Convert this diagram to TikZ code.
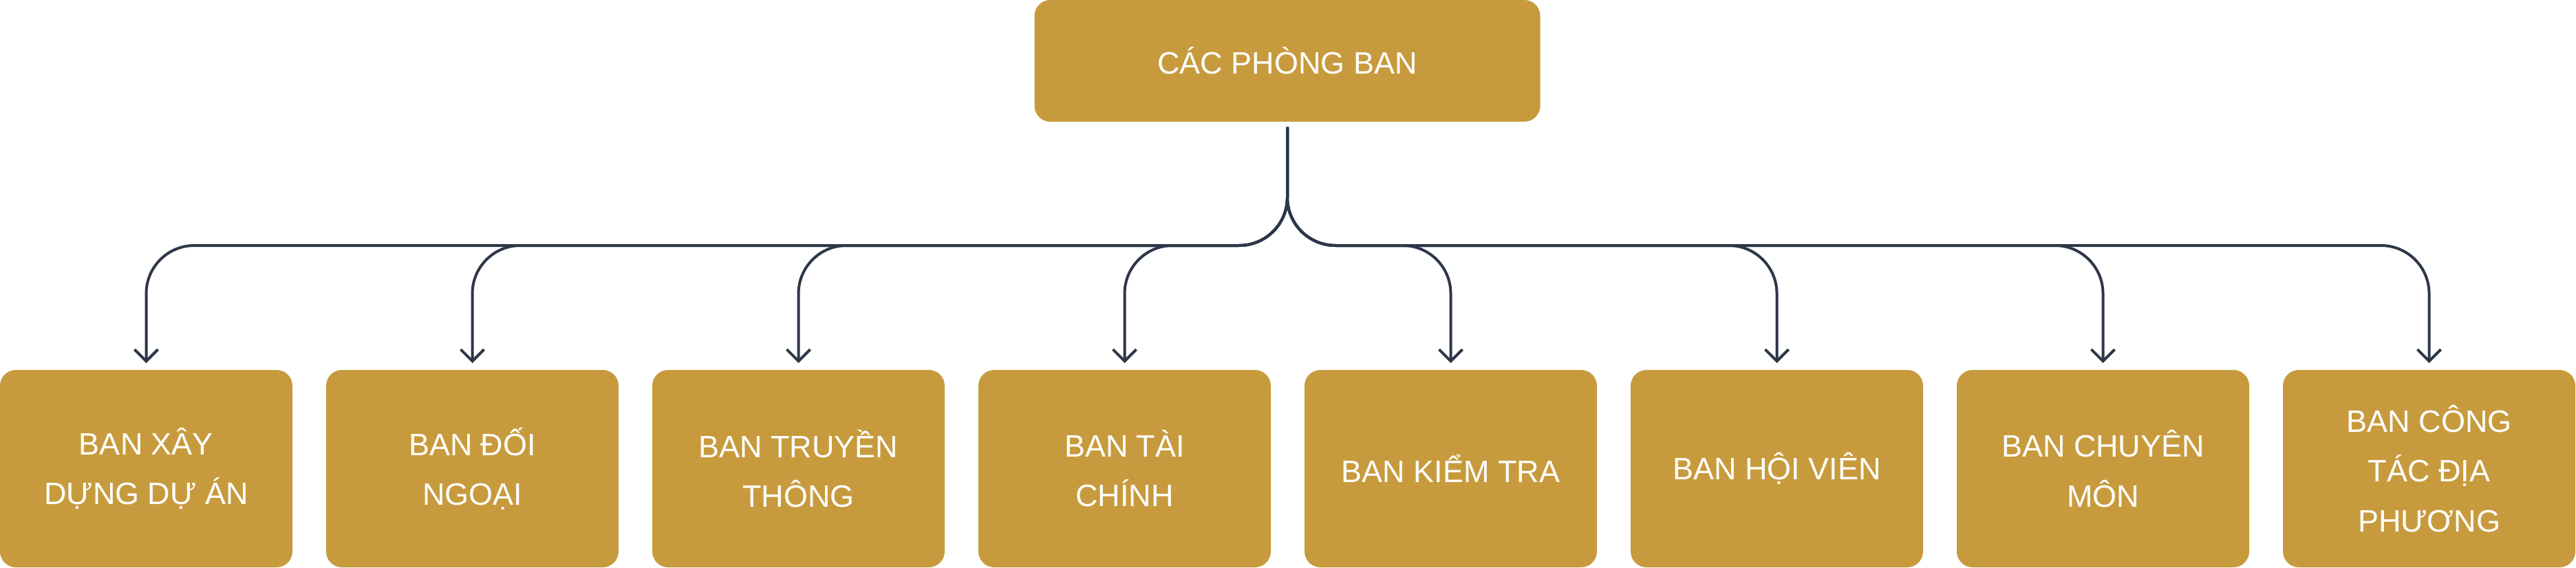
\documentclass[tikz,border=0pt]{standalone}
\usepackage{fontspec}
\setmainfont{Liberation Sans}
\usetikzlibrary{arrows.meta, positioning}
\definecolor{gold}{HTML}{C79B3D}
\definecolor{navy}{HTML}{2D3748}

\begin{document}
\begin{tikzpicture}
	\tikzset {box/.style={rectangle, rounded corners=0.23cm, fill=gold, text=white, inner sep=0pt, outer sep=0pt, align=center, font=\fontsize{12.8}{20.6}\selectfont},
		ban/.style={box, minimum width=4.25cm, minimum height=2.87cm},
		link/.style={navy, line width=0.04cm, rounded corners=0.7cm, -{Straight Barb[length=0.17cm, width=0.34cm]}},
		node distance=0.49cm }
	\useasboundingbox (0,0) rectangle (37.44,8.25);

	\node[box, minimum width=7.35cm, minimum height=1.77cm] (root) at (18.71,7.365) {CÁC PHÒNG BAN};

	\node[ban] (b1) at (2.125,1.435) {BAN XÂY\\DỰNG DỰ ÁN};
	\node[ban, right=of b1] (b2) {BAN ĐỐI\\NGOẠI};
	\node[ban, right=of b2] (b3) {BAN TRUYỀN\\THÔNG};
	\node[ban, right=of b3] (b4) {BAN TÀI\\CHÍNH};
	\node[ban, right=of b4] (b5) {BAN KIỂM TRA};
	\node[ban, right=of b5] (b6) {BAN HỘI VIÊN};
	\node[ban, right=of b6] (b7) {BAN CHUYÊN\\MÔN};
	\node[ban, right=of b7] (b8) {BAN CÔNG\\TÁC ĐỊA\\PHƯƠNG};

	\draw[link] ([yshift=-0.08cm]root.south) |- ([yshift=1.81cm]b1.north) -- ([yshift=0.1cm]b1.north);
	\draw[link] ([yshift=-0.08cm]root.south) |- ([yshift=1.81cm]b2.north) -- ([yshift=0.1cm]b2.north);
	\draw[link] ([yshift=-0.08cm]root.south) |- ([yshift=1.81cm]b3.north) -- ([yshift=0.1cm]b3.north);
	\draw[link] ([yshift=-0.08cm]root.south) |- ([yshift=1.81cm]b4.north) -- ([yshift=0.1cm]b4.north);
	\draw[link] ([yshift=-0.08cm]root.south) |- ([yshift=1.81cm]b5.north) -- ([yshift=0.1cm]b5.north);
	\draw[link] ([yshift=-0.08cm]root.south) |- ([yshift=1.81cm]b6.north) -- ([yshift=0.1cm]b6.north);
	\draw[link] ([yshift=-0.08cm]root.south) |- ([yshift=1.81cm]b7.north) -- ([yshift=0.1cm]b7.north);
	\draw[link] ([yshift=-0.08cm]root.south) |- ([yshift=1.81cm]b8.north) -- ([yshift=0.1cm]b8.north);
\end{tikzpicture}
\end{document}
